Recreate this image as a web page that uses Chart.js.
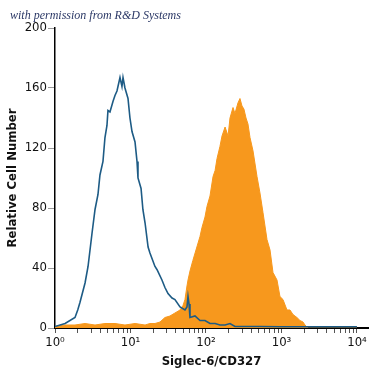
<!DOCTYPE html>
<html>
<head>
<meta charset="utf-8">
<script src="https://cdn.jsdelivr.net/npm/chart.js@4/dist/chart.umd.min.js"></script>
<style>
  html, body { margin: 0; padding: 0; background: #fff; }
</style>
</head>
<body>
<canvas id="histo" width="375" height="375"></canvas>
<script>
// values (intensity, relative cell number)
var creditText = 'with permission from R&D Systems'
var xTitle = 'Siglec-6/CD327'
var yTitle = 'Relative Cell Number'

var yTicks = [0, 40, 80, 120, 160, 200]
var xMajorTicks = [1, 10, 100, 1000, 10000]
var xMinorTicks = [2, 3, 4, 5, 6, 7, 8, 9,
  20, 30, 40, 50, 60, 70, 80, 90,
  200, 300, 400, 500, 600, 700, 800, 900,
  2000, 3000, 4000, 5000, 6000, 7000, 8000, 9000]

// isotype control (blue outline)
var controlX = [1.0, 1.36, 1.84, 2.0, 2.14, 2.5, 2.74, 3.09, 3.39, 3.71, 3.94, 4.32, 4.59, 4.88, 5.03,
  5.35, 5.86, 6.23, 6.62, 7.26, 7.71, 7.96, 8.45, 9.27, 9.84, 10.47, 11.48, 12.2, 12.57, 13.8,
  14.6, 15.6, 17.1, 18.1, 21.1, 22.4, 26.1, 28.6, 31.4, 35.5, 38.8, 45.3, 52.7, 56.0, 57.8,
  59.6, 61.4, 71.5, 83.3, 97, 113, 132, 153, 179, 208, 242, 329, 519, 955, 1758, 3236, 5957, 10000]
var controlY = [1, 3, 7, 12, 17, 30, 41, 63, 79, 89, 102, 111, 127, 135, 145,
  144, 151, 155, 158, 167, 161, 167, 160, 153, 140, 131, 124, 111, 100, 93,
  79, 70, 54, 50, 41, 39, 32, 27, 23, 20, 19, 14, 12, 14, 21,
  16, 7, 8, 5, 5, 3, 3, 2, 2, 3, 1, 1, 1, 0.8, 0.8, 0.8, 0.8, 0.8]

// Siglec-6 stained (orange filled)
var stainX = [1.0, 1.36, 1.84, 2.5, 3.39, 4.59, 6.23, 8.45, 11.5, 15.6, 18.1, 21.1, 24.6, 28.6, 33.3,
  38.8, 45.3, 49.6, 52.7, 56.0, 57.8, 61.4, 67.0, 73.7, 83.3, 88.5, 97, 103, 113, 124,
  132, 140, 153, 163, 179, 196, 208, 228, 242, 265, 282, 300, 318, 339, 360,
  383, 420, 474, 519, 569, 643, 705, 772, 872, 955, 1047, 1183, 1297, 1420, 1603,
  1758, 1928, 2047, 2243, 10000]
var stainY = [1, 2, 2, 3, 2, 3, 3, 2, 3, 2, 3, 3, 4, 7, 8,
  10, 12, 15, 19, 28, 32, 38, 45, 52, 61, 67, 74, 81, 88, 101,
  105, 113, 121, 128, 134, 128, 140, 147, 143, 150, 153, 148, 146, 140, 136,
  127, 118, 101, 90, 77, 59, 52, 37, 32, 21, 19, 12, 12, 9, 7,
  5, 4, 2, 0, 0]

var supDigits = ['\u2070', '\u00b9', '\u00b2', '\u00b3', '\u2074']
var narrow = "'Liberation Sans Narrow', 'DejaVu Sans Condensed', 'Roboto', sans-serif"

function toPoints(xs, ys) {
  return xs.map(function (x, i) { return { x: x, y: ys[i] } })
}

var creditPlugin = {
  id: 'credit',
  afterDraw: function (chart) {
    var ctx = chart.ctx
    ctx.save()
    ctx.font = "italic 12px 'Liberation Serif', 'DejaVu Serif', serif"
    ctx.fillStyle = '#2b3866'
    ctx.textBaseline = 'alphabetic'
    ctx.fillText(creditText, 10, 19)
    ctx.restore()
  }
}

var ctx = document.getElementById('histo').getContext('2d')
new Chart(ctx, {
  type: 'line',
  data: {
    datasets: [{
      label: 'Control',
      data: toPoints(controlX, controlY),
      borderColor: '#1d5b85',
      borderWidth: 1.6,
      pointRadius: 0,
      fill: false,
      tension: 0,
      order: 0
    }, {
      label: 'Siglec-6/CD327',
      data: toPoints(stainX, stainY),
      borderColor: '#f7981d',
      backgroundColor: '#f7981d',
      borderWidth: 1,
      pointRadius: 0,
      fill: 'origin',
      tension: 0,
      order: 1
    }]
  },
  options: {
    responsive: false,
    animation: false,
    events: [],
    layout: { padding: { top: 28, left: 0, right: 7, bottom: 0 } },
    plugins: {
      legend: { display: false },
      tooltip: { enabled: false }
    },
    scales: {
      x: {
        type: 'logarithmic',
        min: 1,
        max: 14000,
        afterBuildTicks: function (scale) {
          scale.ticks = xMajorTicks.concat(xMinorTicks).sort(function (a, b) { return a - b })
            .map(function (v) { return { value: v, major: xMajorTicks.indexOf(v) >= 0 } })
        },
        afterFit: function (scale) { scale.height = 47 },
        border: { display: true, color: '#000', width: 2 },
        grid: { drawOnChartArea: false, drawTicks: true, tickLength: 5, color: '#555' },
        ticks: {
          autoSkip: false,
          maxRotation: 0,
          padding: 2,
          color: '#111',
          font: { family: narrow, size: 13 },
          callback: function (value) {
            var i = xMajorTicks.indexOf(value)
            return i >= 0 ? '10' + supDigits[i] : ''
          }
        },
        title: {
          display: true,
          text: xTitle,
          color: '#111',
          font: { family: narrow, size: 13, weight: 'bold' },
          padding: { top: 0, bottom: 6 }
        }
      },
      y: {
        min: 0,
        max: 200,
        afterBuildTicks: function (scale) {
          scale.ticks = yTicks.map(function (v) { return { value: v } })
        },
        afterFit: function (scale) { scale.width = 55 },
        border: { display: true, color: '#000', width: 1.5 },
        grid: { drawOnChartArea: false, drawTicks: true, tickLength: 7, color: '#999' },
        ticks: {
          padding: 1,
          color: '#111',
          font: { family: narrow, size: 13 }
        },
        title: {
          display: true,
          text: yTitle,
          color: '#111',
          font: { family: narrow, size: 13, weight: 'bold' },
          padding: { top: 5, bottom: 0 }
        }
      }
    }
  },
  plugins: [creditPlugin]
})
</script>
</body>
</html>
